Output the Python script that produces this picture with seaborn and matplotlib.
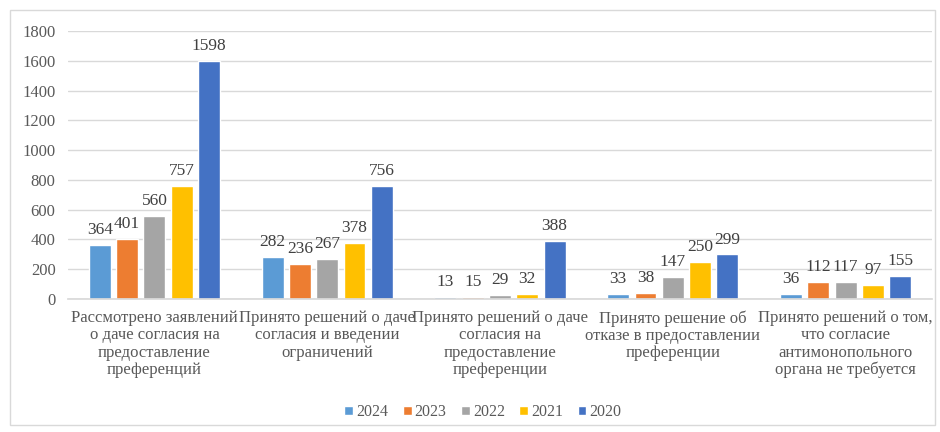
import matplotlib
matplotlib.use("Agg")
import matplotlib.pyplot as plt
import seaborn as sns
import pandas as pd
from matplotlib.patches import Rectangle

categories = [
    "Рассмотрено заявлений\nо даче согласия на\nпредоставление\nпреференций",
    "Принято решений о даче\nсогласия и введении\nограничений",
    "Принято решений о даче\nсогласия на\nпредоставление\nпреференции",
    "Принято решение об\nотказе в предоставлении\nпреференции",
    "Принято решений о том,\nчто согласие\nантимонопольного\nоргана не требуется",
]
years = ["2024", "2023", "2022", "2021", "2020"]
v2024 = [364, 282, 13, 33, 36]
v2023 = [401, 236, 15, 38, 112]
v2022 = [560, 267, 29, 147, 117]
v2021 = [757, 378, 32, 250, 97]
v2020 = [1598, 756, 388, 299, 155]
colors = ["#5B9BD5", "#ED7D31", "#A5A5A5", "#FFC000", "#4472C4"]

series = [v2024, v2023, v2022, v2021, v2020]
rows = []
for y, vals in zip(years, series):
    for c, v in zip(categories, vals):
        rows.append({"cat": c, "year": y, "value": v})
df = pd.DataFrame(rows)

sns.set_theme(style="white")
plt.rcParams["font.family"] = ["Liberation Serif", "DejaVu Serif"]

fig = plt.figure(figsize=(9.4, 4.32), dpi=100)
ax = fig.add_axes([68/940, 1-299/432, 864/940, 268/432])

sns.barplot(data=df, x="cat", y="value", hue="year", hue_order=years,
            order=categories, palette=colors, width=0.79, gap=0.2,
            saturation=1, ax=ax, legend=True)

for cont in ax.containers:
    ax.bar_label(cont, padding=5, fontsize=12.5, color="#404040")

ax.set_ylim(0, 1800)
ax.set_yticks(range(0, 1801, 200))
ax.set_xlim(-0.5, 4.5)
ax.yaxis.grid(True, color="#D9D9D9", linewidth=1)
ax.set_axisbelow(True)
for s in ["left", "right", "top"]:
    ax.spines[s].set_visible(False)
ax.spines["bottom"].set_color("#D9D9D9")
ax.tick_params(axis="y", length=0, labelsize=12, labelcolor="#595959", pad=9)
ax.tick_params(axis="x", length=0, labelsize=12, labelcolor="#595959", pad=8)
for t in ax.get_xticklabels():
    t.set_linespacing(1.1)
ax.set_xlabel("")
ax.set_ylabel("")

h, l = ax.get_legend_handles_labels()
ax.legend_.remove()
fig.legend(h, l, loc="center", bbox_to_anchor=(483/940, 1-412/432), ncol=5,
           frameon=False, fontsize=11.5, handlelength=0.55, handleheight=0.55,
           handletextpad=0.2, columnspacing=0.9, labelcolor="#595959")

fig.patches.append(Rectangle((10/940, 1-425/432), 925/940, 415/432,
                             transform=fig.transFigure, fill=False,
                             edgecolor="#D9D9D9", linewidth=1))

fig.savefig("out.png", dpi=100, facecolor="white")
